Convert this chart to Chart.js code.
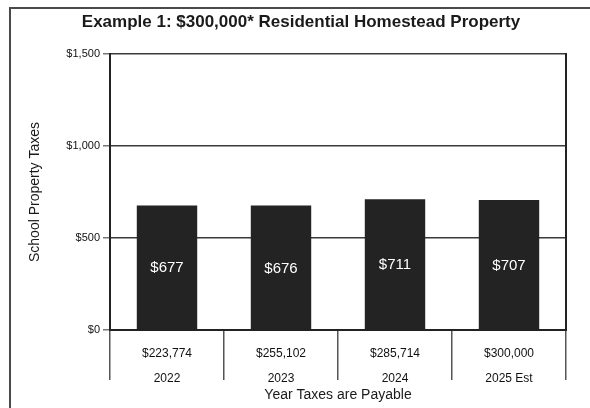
<!DOCTYPE html>
<html>
<head>
<meta charset="utf-8">
<script src="https://cdn.jsdelivr.net/npm/chart.js@4"></script>
<style>
  body { margin: 0; background: #fff; }
  #frame { position: absolute; left: 9px; top: 7px; width: 620px; height: 440px; border: 2px solid #4a4a4a; }
  #wrap { position: absolute; left: 0; top: 0; width: 590px; height: 408px; }
</style>
</head>
<body>
<div id="frame"></div>
<div id="wrap"><canvas id="myChart" width="590" height="408"></canvas></div>
<script>
// chart values
const years = ['2022', '2023', '2024', '2025 Est']
const homeValues = ['$223,774', '$255,102', '$285,714', '$300,000']
const schoolTaxes = [677, 676, 711, 707]
const yTicks = [0, 500, 1000, 1500]

const font = "'Liberation Sans', Arial, sans-serif"

function money(v) {
  return '$' + v.toLocaleString('en-US')
}

// white value labels in the middle of each bar
const barLabels = {
  id: 'barLabels',
  afterDatasetsDraw(chart) {
    const ctx = chart.ctx
    const meta = chart.getDatasetMeta(0)
    ctx.save()
    ctx.fillStyle = '#fff'
    ctx.font = '15px ' + font
    ctx.textAlign = 'center'
    ctx.textBaseline = 'middle'
    meta.data.forEach(function (bar, i) {
      ctx.fillText(money(schoolTaxes[i]), bar.x, (bar.y + bar.base) / 2 + 1)
    })
    ctx.restore()
  }
}

const ctx = document.getElementById('myChart')
let labels = years.map((y, i) => [homeValues[i], y])

const chart = new Chart(ctx, {
  type: 'bar',
  data: {
    labels: labels,
    datasets: [{
      data: schoolTaxes,
      backgroundColor: '#232323',
      borderWidth: 0,
      barPercentage: 0.53,
      categoryPercentage: 1
    }]
  },
  plugins: [barLabels],
  options: {
    responsive: false,
    animation: false,
    layout: { padding: { left: 36, right: 24, top: 0, bottom: 0 } },
    plugins: {
      legend: { display: false },
      tooltip: { enabled: false },
      title: {
        display: true,
        text: 'Example 1: $300,000* Residential Homestead Property',
        color: '#1a1a1a',
        font: { family: font, size: 17, weight: 'bold', lineHeight: 1.2 },
        padding: { top: 12, bottom: 21.6 }
      }
    },
    scales: {
      x: {
        offset: true,
        afterFit: function (scale) { scale.height = 78 },
        grid: {
          offset: true,
          drawOnChartArea: false,
          tickLength: 50,
          tickColor: '#555',
          lineWidth: 1.5
        },
        border: { color: '#222', width: 2 },
        ticks: {
          color: '#111',
          padding: -39,
          font: { family: font, size: 12, lineHeight: 2.1 }
        },
        title: {
          display: true,
          text: 'Year Taxes are Payable',
          color: '#1a1a1a',
          font: { family: font, size: 14, lineHeight: 1.2 },
          padding: { top: 0, bottom: 4 }
        }
      },
      y: {
        min: 0,
        max: 1500,
        afterFit: function (scale) { scale.width = 74 },
        afterBuildTicks: function (scale) { scale.ticks = yTicks.map(v => ({ value: v })) },
        grid: {
          color: '#3a3a3a',
          lineWidth: 1.5,
          tickLength: 7,
          tickColor: '#777'
        },
        border: { color: '#222', width: 2 },
        ticks: {
          color: '#111',
          padding: 3,
          font: { family: font, size: 11 },
          callback: function (v) { return money(v) }
        },
        title: {
          display: true,
          text: 'School Property Taxes',
          color: '#1a1a1a',
          font: { family: font, size: 14, lineHeight: 1.2 },
          padding: { top: -9, bottom: 0 }
        }
      },
      y2: {
        position: 'right',
        min: 0,
        max: 1500,
        afterFit: function (scale) { scale.width = 0 },
        grid: { display: false },
        ticks: { display: false },
        border: { color: '#222', width: 2 }
      }
    }
  }
})
</script>
</body>
</html>
